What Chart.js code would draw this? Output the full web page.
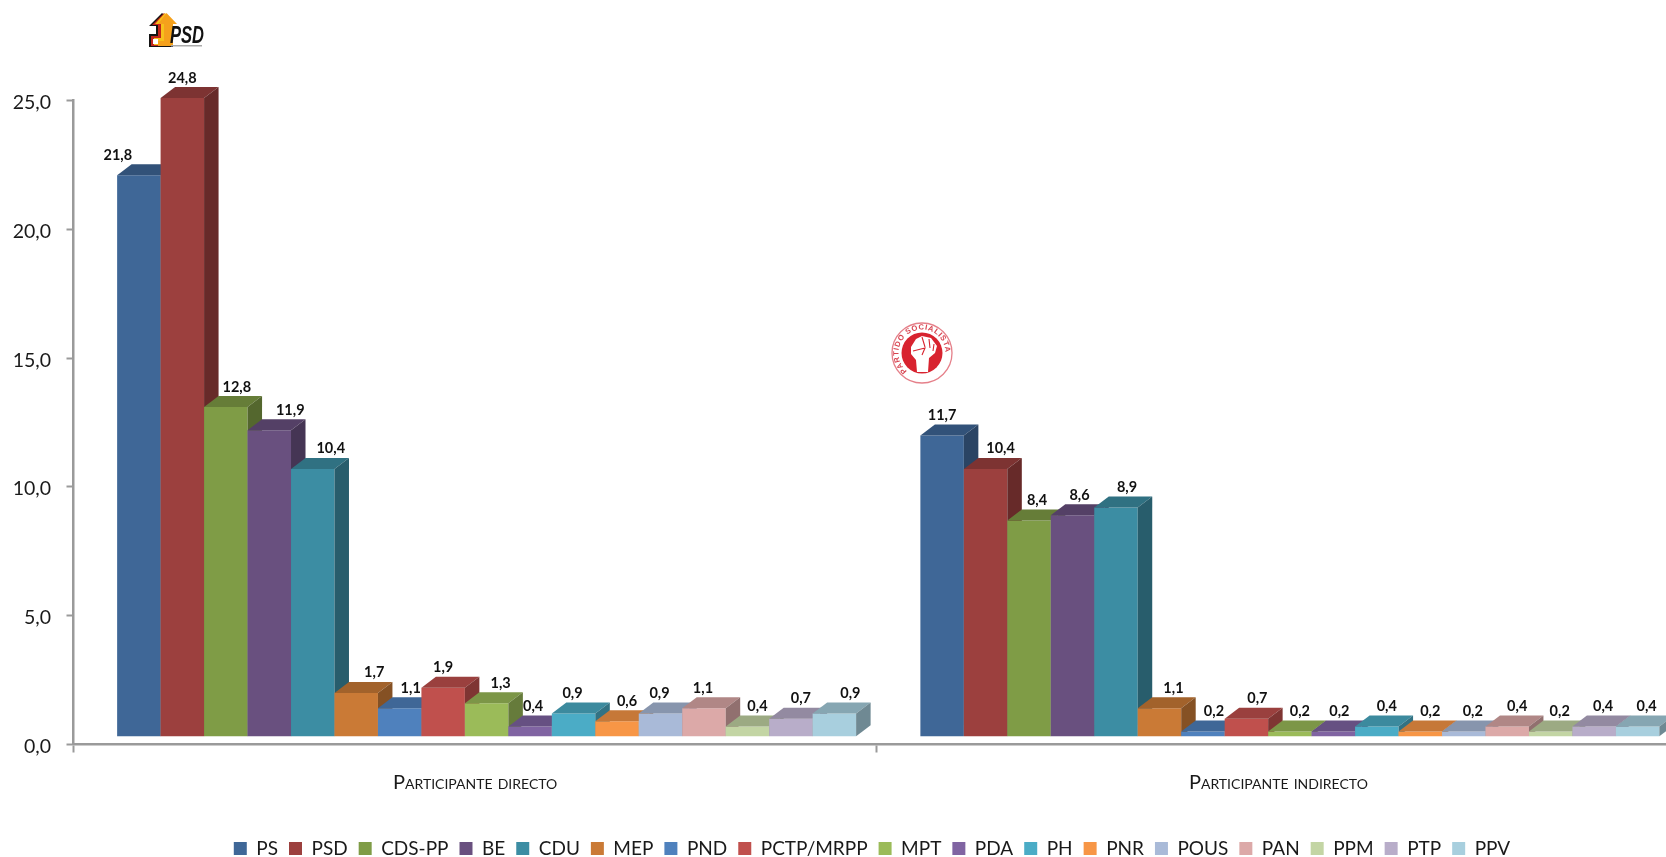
<!DOCTYPE html>
<html><head><meta charset="utf-8">
<style>
html,body{margin:0;padding:0;background:#fff;overflow:hidden}
#wrap{position:relative;width:1666px;height:857px;overflow:hidden}
canvas{position:absolute;left:0;top:0}
svg{position:absolute}
</style>
<script src="https://cdn.jsdelivr.net/npm/chart.js@4"></script>
</head><body>
<div id="wrap">
<canvas id="c" width="1680" height="857"></canvas>
<svg style="left:146px;top:10px" width="62" height="40" viewBox="0 0 62 40">
  <path d="M16 3 L3 16 L10 16 L10 24 L3 24 L3 37 L27 37 L27 12 Z" fill="#141414"/>
  <path d="M18 3 L6 15 L12 15 L12 26 L5 26 L5 36 L27 36 L27 12 Z" fill="#c3261c"/>
  <path d="M19 3 L9 14 L15 14 L15 28 L8 28 L8 35 L27 35 L27 12 Z" fill="#f6c21c"/>
  <path d="M20.5 3 L31 14 L27 14 L27 36 L12 36 L12 31 L18 31 L18 14 L12 14 Z" fill="#f5a11c"/>
  <rect x="7" y="29" width="5" height="5" fill="#fff"/>
  <text x="24" y="33" font-family="Liberation Sans" font-style="italic" font-weight="700" font-size="24" textLength="34" lengthAdjust="spacingAndGlyphs" fill="#111">PSD</text>
  <rect x="25" y="35" width="31" height="1.5" fill="#aaa"/>
</svg>
<svg style="left:889px;top:320px" width="66" height="66" viewBox="0 0 66 66">
  <circle cx="33" cy="33" r="30" fill="#fff" stroke="#e5808a" stroke-width="1.3"/>
  <circle cx="33" cy="33" r="20.5" fill="#d8232f"/>
  <defs><path id="ring" d="M17.9 51 A23.5 23.5 0 1 1 48.1 51"/></defs>
  <text font-family="Liberation Sans" font-weight="700" font-size="7.6" fill="#d8434f" letter-spacing=".7"><textPath href="#ring">PARTIDO SOCIALISTA</textPath></text>
  <path d="M22 27 L27 19 L33 16 L42 18 L48 26 L46 33 L40 38 L39 52 L28 52 L27 40 L22 34 Z" fill="#fff"/>
  <path d="M24 31 L36 28 L33 35 M33 17 L36 27 M40 19 L41 28 M45 24 L44 31" stroke="#d8232f" stroke-width="1.1" fill="none"/>
</svg>
</div>
<script>
const categories = ['Participante directo', 'Participante indirecto'];
const parties = ['PS','PSD','CDS-PP','BE','CDU','MEP','PND','PCTP/MRPP','MPT','PDA','PH','PNR','POUS','PAN','PPM','PTP','PPV'];
const directo   = [21.8,24.8,12.8,11.9,10.4,1.7,1.1,1.9,1.3,0.4,0.9,0.6,0.9,1.1,0.4,0.7,0.9];
const indirecto = [11.7,10.4,8.4,8.6,8.9,1.1,0.2,0.7,0.2,0.2,0.4,0.2,0.2,0.4,0.2,0.4,0.4];
const colors = ['#3F6797','#9C403E','#7F9C46','#69507F','#3C8DA3','#CA7A36','#4F81BD','#C0504D','#9BBB59','#8064A2','#4BACC6','#F79646','#A9BAD8','#DCA9A8','#C3D5A4','#B8ADC9','#A8CFDE'];
// Hand placement of the value labels in the source, per category, per bar
const nudgeDirecto   = [-21,0,11,21,18,18,11,0,14,3,-1,10,-1,-1,10,10,16];
const nudgeIndirecto = [0,15,8,7,11,14,11,11,10,6,10,10,9,10,9,9,9];
const nudges = [nudgeDirecto, nudgeIndirecto];
const DEPTH_X = 14.5, DEPTH_Y = 11, SHIFT_X = 11.5, SHIFT_Y = -7.8;
const FONT = 'Lato, Carlito, Calibri, sans-serif';

function shade(hex, k){
  const n = parseInt(hex.slice(1),16);
  return 'rgb('+[(n>>16)&255,(n>>8)&255,n&255].map(v=>Math.round(v*k)).join(',')+')';
}
function poly(ctx, pts, fill){
  ctx.beginPath();
  pts.forEach((p,i)=> i?ctx.lineTo(p[0],p[1]):ctx.moveTo(p[0],p[1]));
  ctx.closePath(); ctx.fillStyle = fill; ctx.fill();
}
const bars3d = {
  id:'bars3d',
  afterLayout(chart){
    const l = chart.legend;
    l.left += 32; l.right += 32; l.top += 11; l.bottom += 11;
  },
  beforeDatasetDraw(){ return false; },
  afterDatasetsDraw(chart){
    const ctx = chart.ctx;
    ctx.save();
    ctx.translate(SHIFT_X, SHIFT_Y);
    chart.data.datasets.forEach((ds, d)=>{
      const meta = chart.getDatasetMeta(d);
      meta.data.forEach(el=>{
        const {x,y,base,width} = el.getProps(['x','y','base','width'], true);
        const l = x-width/2, r = x+width/2;
        el.draw(ctx);
        poly(ctx, [[l,y],[l+DEPTH_X,y-DEPTH_Y],[r+DEPTH_X,y-DEPTH_Y],[r,y]], shade(colors[d],.8));
        poly(ctx, [[r,y],[r+DEPTH_X,y-DEPTH_Y],[r+DEPTH_X,base-DEPTH_Y],[r,base]], shade(colors[d],.66));
      });
    });
    ctx.restore();
    ctx.save();
    ctx.font = 'bold 14.5px '+FONT;
    ctx.fillStyle = '#111';
    ctx.textAlign = 'center';
    ctx.textBaseline = 'middle';
    chart.data.datasets.forEach((ds, d)=>{
      chart.getDatasetMeta(d).data.forEach((el,c)=>{
        const {x,y} = el.getProps(['x','y'], true);
        ctx.fillText(ds.data[c].toFixed(1).replace('.',','), x+SHIFT_X+nudges[c][d], y-28);
      });
    });
    ctx.restore();
  }
};
new Chart(document.getElementById('c'), {
  type:'bar',
  data:{
    labels:categories,
    datasets:parties.map((p,i)=>({label:p,data:[directo[i],indirecto[i]],backgroundColor:colors[i],borderWidth:0}))
  },
  plugins:[bars3d],
  options:{
    responsive:false,
    animation:false,
    devicePixelRatio:1,
    layout:{padding:{top:100.7,left:0,right:0,bottom:0}},
    datasets:{bar:{categoryPercentage:0.92,barPercentage:1}},
    scales:{
      x:{
        afterFit(s){ s.height = 72.5; },
        border:{color:'#9a9a9a',width:2.5},
        grid:{drawOnChartArea:false,drawTicks:true,tickLength:8,tickColor:'#9a9a9a',tickWidth:2,offset:true},
        ticks:{color:'#1a1a1a',padding:18,maxRotation:0,font:{family:FONT,size:20,weight:'small-caps'}}
      },
      y:{
        afterFit(s){ s.width = 73.5; },
        min:0,max:25,
        border:{color:'#9a9a9a',width:2.5},
        grid:{drawOnChartArea:false,drawTicks:true,tickLength:7,tickColor:'#9a9a9a',tickWidth:2},
        ticks:{stepSize:5,color:'#1a1a1a',padding:15.5,labelOffset:2,font:{family:FONT,size:19.5},callback:v=>v.toFixed(1).replace('.',',')}
      }
    },
    plugins:{
      tooltip:{enabled:false},
      legend:{position:'bottom',labels:{boxWidth:13,boxHeight:13,padding:11,color:'#1a1a1a',font:{family:FONT,size:19}}}
    }
  }
});
</script>
</body></html>
